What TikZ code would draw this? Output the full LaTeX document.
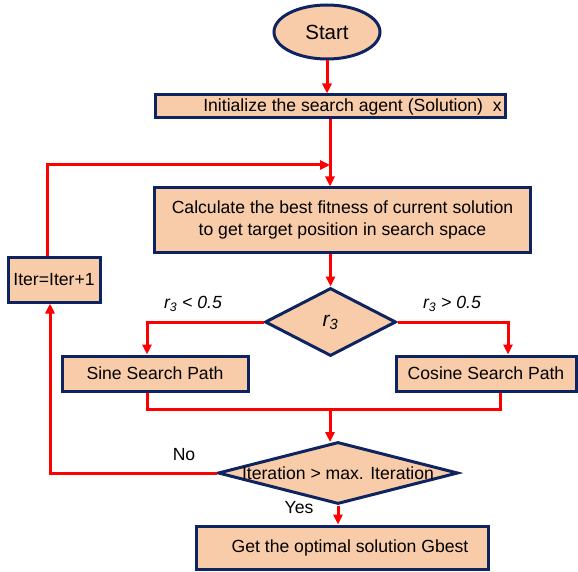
\documentclass[tikz,border=0pt]{standalone}
\usepackage{fontspec}
\setmainfont{Liberation Sans}
\usetikzlibrary{shapes.geometric,arrows.meta}
\definecolor{peach}{RGB}{248,204,168}
\definecolor{navy}{RGB}{14,36,96}
\definecolor{flowred}{RGB}{255,0,0}

\begin{document}
\begin{tikzpicture}[x=1pt,y=-1pt,
    box/.style={draw=navy, line width=3pt, fill=peach, rectangle, inner sep=0pt,
      font=\fontsize{17.6}{21.5}\selectfont, align=center},
    decide/.style={draw=navy, line width=3pt, fill=peach, diamond, inner sep=0pt},
    flow/.style={draw=flowred, line width=3pt},
    arrow/.style={flow, -{Triangle[length=10pt,width=9pt]}},
    lbl/.style={font=\fontsize{17.6}{20}\selectfont, inner sep=0pt}]
      \useasboundingbox (0,0) rectangle (578,572);

      \node[box, ellipse, minimum width=106, minimum height=54, font=\fontsize{20.5}{24}\selectfont] (start) at (327,32) {Start};
      \node[box, minimum width=350, minimum height=23] (init) at (330,106.5) {\hspace*{45pt}Initialize the search agent (Solution)\ \ x};
      \node[box, minimum width=376, minimum height=64] (calc) at (342.5,220) 
        {Calculate the best fitness of current solution\\to get target position in search space};
      \node[box, minimum width=92, minimum height=45] (iter) at (54,279.5) {Iter=Iter+1};
      \node[decide, minimum width=131, minimum height=68,
        label={[font=\fontsize{21}{24}\selectfont\itshape]center:r\textsubscript{3}}] (rthree) at (330.5,322) {};
      \node[box, minimum width=186, minimum height=35] (sine) at (155,373.5) {Sine Search Path};
      \node[box, minimum width=180, minimum height=35] (cosine) at (486,373.5) {Cosine Search Path};
      \node[decide, minimum width=240, minimum height=62,
        label={[font=\fontsize{17.6}{20}\selectfont]center:Iteration > max. Iteration}] (check) at (338,473) {};
      \node[box, minimum width=292, minimum height=43] (gbest) at (342,547.5) {\hspace*{16pt}Get the optimal solution Gbest};

      \coordinate (loop) at (330,165);
      \coordinate (merge) at (330,409);

      \draw[arrow] (start) -- (start |- init.north);
      \draw[arrow] (init.south -| loop) -- (calc.north -| loop);
      \draw[arrow] ([xshift=-7]iter.north) |- (loop);
      \draw[arrow] (calc.south -| rthree) -- (rthree.north);
      \draw[arrow] (rthree.west) -| ([xshift=-8]sine.north);
      \draw[arrow] (rthree.east) -| ([xshift=22]cosine.north);
      \draw[flow] ([xshift=-8]sine.south) |- (merge) -| ([xshift=14]cosine.south);
      \draw[arrow] (merge) -- ++(0,33);
      \draw[arrow] (check.west) -| ([xshift=-4]iter.south);
      \draw[arrow] (check.south) -- (check.south |- gbest.north);

      \node[lbl, font=\fontsize{17.6}{20}\selectfont\itshape] (ltlabel) at (193,304) {r\textsubscript{3} < 0.5};
      \node[lbl, font=\fontsize{17.6}{20}\selectfont\itshape] (gtlabel) at (452,304) {r\textsubscript{3} > 0.5};
      \node[lbl] (nolabel) at (184,455) {No};
      \node[lbl] (yeslabel) at (299,508) {Yes};
    \end{tikzpicture}
\end{document}
